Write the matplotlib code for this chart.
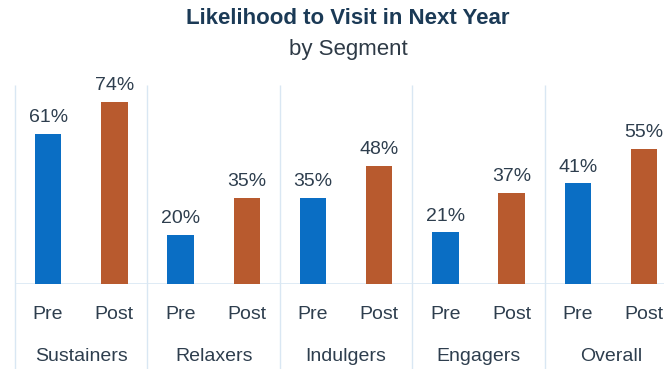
import numpy as np
import matplotlib; matplotlib.use('Agg'); import matplotlib.pyplot as plt

segments = ['Sustainers', 'Relaxers', 'Indulgers', 'Engagers', 'Overall']
pre = [61, 20, 35, 21, 41]
post = [74, 35, 48, 37, 55]

plt.rcParams['font.family'] = ['Liberation Sans Narrow', 'Liberation Sans', 'DejaVu Sans']
blue, orange = '#0A6EC4', '#B85A2E'
txt = '#2E3E4E'; grid = '#D9E7F3'

fig = plt.figure(figsize=(6.64, 3.69), dpi=100)
ax = fig.add_axes([15 / 664, 1 - 284 / 369, 1 - 15 / 664, 197 / 369])
x = np.arange(len(segments))
ax.bar(x - 0.25, pre, 0.2, color=blue)
ax.bar(x + 0.25, post, 0.2, color=orange)
for xi, p, q in zip(x, pre, post):
    ax.text(xi - 0.25, p + 3, f'{p}%', ha='center', va='bottom', fontsize=14, color=txt)
    ax.text(xi + 0.25, q + 3, f'{q}%', ha='center', va='bottom', fontsize=14, color=txt)
    ax.text(xi - 0.25, -12.5, 'Pre', ha='center', va='center', fontsize=14, color=txt)
    ax.text(xi + 0.25, -12.5, 'Post', ha='center', va='center', fontsize=14, color=txt)
    ax.text(xi, -29.5, segments[int(xi)], ha='center', va='center', fontsize=14, color=txt)

ax.set_xlim(-0.5, 4.40); ax.set_ylim(0, 80)
ax.vlines(np.arange(-0.5, 5), -36, 81, color=grid, lw=1, clip_on=False, zorder=0)
ax.axhline(0, color=grid, lw=1.2, zorder=0)
ax.axis('off')

fig.text(0.523, 1 - 18 / 369, 'Likelihood to Visit in Next Year', ha='center', va='center',
         fontsize=16, fontweight='bold', color='#1B3A56')
fig.text(0.525, 1 - 50 / 369, 'by Segment', ha='center', va='center', fontsize=16, color='#2E3A46')
fig.savefig('out.png', dpi=100)
